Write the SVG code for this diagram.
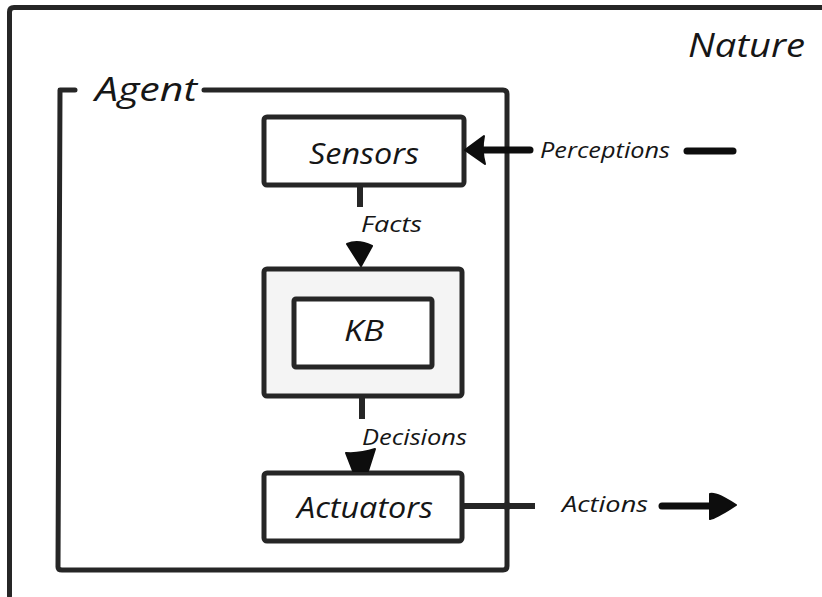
<svg xmlns="http://www.w3.org/2000/svg" width="822" height="597" viewBox="0 0 822 597">
  <style>
    .frame { fill: none; stroke: #262626; stroke-width: 5; stroke-linecap: round; stroke-linejoin: round; }
    .box { fill: #ffffff; stroke: #262626; stroke-width: 5; stroke-linejoin: round; }
    .panel { fill: #f4f4f4; stroke: #262626; stroke-width: 5; stroke-linejoin: round; }
    .wire { fill: none; stroke: #262626; stroke-width: 6; stroke-linecap: butt; }
    .bold { fill: none; stroke: #0d0d0d; stroke-width: 7; stroke-linecap: round; }
    .head { fill: #0d0d0d; stroke: #0d0d0d; stroke-width: 2; stroke-linejoin: round; }
    .hand { font-family: "Open Sans", "Liberation Sans", sans-serif; font-style: italic; fill: #161616; }
    .big { font-size: 32px; }
    .mid { font-size: 29px; }
    .small { font-size: 22px; }
  </style>

  <rect width="822" height="597" fill="#ffffff"/>

  <!-- outer world frame, running off the page -->
  <g id="nature">
    <path class="frame" d="M9.5 596 L9.5 12 Q9.5 7.5 14 7.5 L830 7.5"/>
    <text class="hand big" x="688" y="57" textLength="117" lengthAdjust="spacingAndGlyphs">Nature</text>
  </g>

  <!-- agent boundary with its title set into the top edge -->
  <g id="agent">
    <path class="frame" d="M75 90 L60 90 L58 567 Q58 570 62 570 L503 570 Q507 570 507 566 L507 94 Q507 90 503 90 L204 90"/>
    <text class="hand big" x="95" y="101" textLength="102" lengthAdjust="spacingAndGlyphs">Agent</text>
  </g>

  <g id="sensors">
    <rect class="box" x="264" y="117" width="200" height="68" rx="3"/>
    <text class="hand mid" x="364" y="164" text-anchor="middle" textLength="110" lengthAdjust="spacingAndGlyphs">Sensors</text>
  </g>

  <g id="kb">
    <rect class="panel" x="264" y="269" width="198" height="127" rx="3"/>
    <rect class="box" x="294" y="299" width="138" height="68" rx="2"/>
    <text class="hand mid" x="364" y="341" text-anchor="middle" textLength="40" lengthAdjust="spacingAndGlyphs">KB</text>
  </g>

  <g id="actuators">
    <rect class="box" x="264" y="473" width="198" height="68" rx="3"/>
    <text class="hand mid" x="365" y="518" text-anchor="middle" textLength="136" lengthAdjust="spacingAndGlyphs">Actuators</text>
  </g>

  <g id="connectors">
    <!-- Sensors to KB -->
    <path class="wire" d="M360 186 L360 207"/>
    <path class="head" d="M347 244 Q358 239 372 246 L361 266 Z"/>
    <text class="hand small" x="361" y="232" textLength="61" lengthAdjust="spacingAndGlyphs">Facts</text>

    <!-- KB to Actuators -->
    <path class="wire" d="M362 396 L362 419"/>
    <path class="head" d="M346 453 Q360 454 375 449 L368 471 L353 471 Z"/>
    <text class="hand small" x="362" y="445" textLength="105" lengthAdjust="spacingAndGlyphs">Decisions</text>

    <!-- Perceptions entering the sensors -->
    <path class="bold" d="M530 150 L484 150"/>
    <path class="bold" d="M733 151 L687 151"/>
    <path class="head" d="M465 150 L484 136 Q481 150 485 164 Z"/>
    <text class="hand small" x="540" y="158" textLength="130" lengthAdjust="spacingAndGlyphs">Perceptions</text>

    <!-- Actions leaving the actuators -->
    <path class="wire" d="M462 506 L535 506"/>
    <circle cx="507" cy="506" r="4" fill="#262626"/>
    <path class="bold" d="M662 506 L712 506"/>
    <path class="head" d="M710 494 Q716 492 736 505 Q716 518 710 519 Z"/>
    <text class="hand small" x="562" y="512" textLength="86" lengthAdjust="spacingAndGlyphs">Actions</text>
  </g>
</svg>
